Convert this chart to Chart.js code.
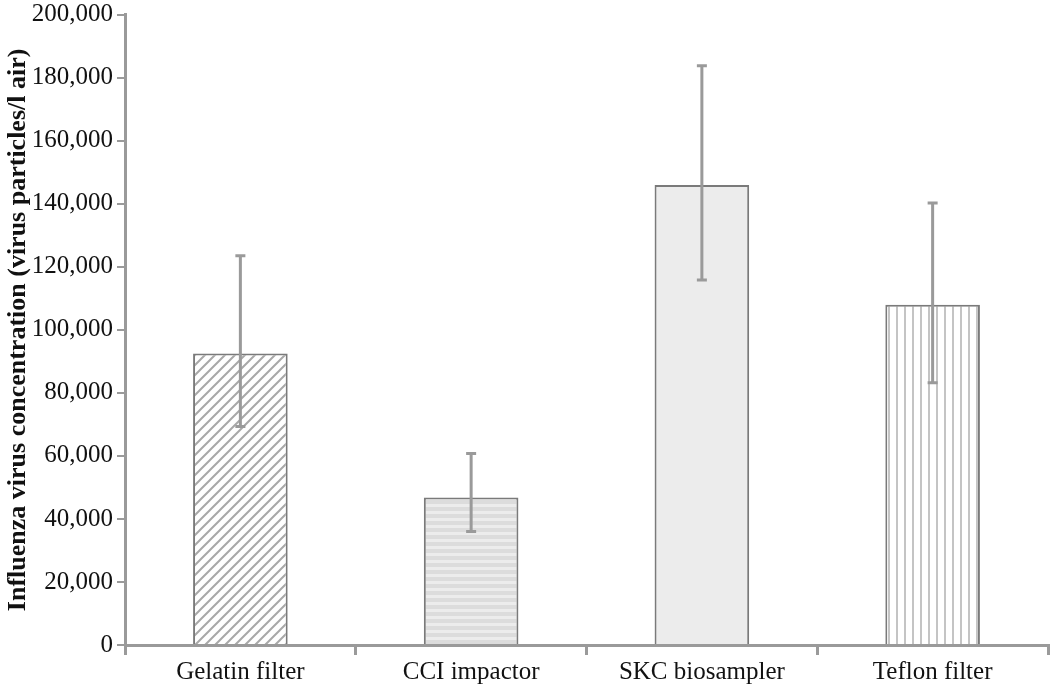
<!DOCTYPE html>
<html>
<head>
<meta charset="utf-8">
<script src="https://cdn.jsdelivr.net/npm/chart.js@4"></script>
<style>
  html, body { margin: 0; padding: 0; background: #fff; }
  #wrap { width: 1050px; height: 689px; }
</style>
</head>
<body>
<div id="wrap"><canvas id="myChart" width="1050" height="689"></canvas></div>
<script>
// data
var categories = ['Gelatin filter', 'CCI impactor', 'SKC biosampler', 'Teflon filter'];
var means = [92500, 46800, 146000, 108000];
var errLow = [69300, 36000, 115800, 83200];
var errHigh = [123500, 60800, 183800, 140300];
var yTicks = [0, 20000, 40000, 60000, 80000, 100000, 120000, 140000, 160000, 180000, 200000];

// hatch patterns
function makePattern(kind) {
  var c = document.createElement('canvas');
  var ctx = c.getContext('2d');
  if (kind == 'diag') {
    c.width = 10; c.height = 10;
    ctx.fillStyle = '#fff'; ctx.fillRect(0, 0, 10, 10);
    ctx.strokeStyle = '#a8a8a8'; ctx.lineWidth = 2;
    ctx.beginPath();
    ctx.moveTo(-2, 12); ctx.lineTo(12, -2);
    ctx.moveTo(-7, 7); ctx.lineTo(7, -7);
    ctx.moveTo(3, 17); ctx.lineTo(17, 3);
    ctx.stroke();
  } else if (kind == 'horiz') {
    c.width = 8; c.height = 7;
    ctx.fillStyle = '#dcdcdc'; ctx.fillRect(0, 0, 8, 7);
    ctx.fillStyle = '#ececec'; ctx.fillRect(0, 0, 8, 3);
  } else if (kind == 'vert') {
    c.width = 8; c.height = 8;
    ctx.fillStyle = '#fff'; ctx.fillRect(0, 0, 8, 8);
    ctx.fillStyle = '#c4c4c4'; ctx.fillRect(0, 0, 2, 8);
  } else {
    c.width = 4; c.height = 4;
    ctx.fillStyle = '#ececec'; ctx.fillRect(0, 0, 4, 4);
  }
  return ctx.createPattern(c, 'repeat');
}

var errorBars = {
  id: 'errorBars',
  afterDatasetsDraw: function (chart) {
    var ctx = chart.ctx;
    var y = chart.scales.y;
    var meta = chart.getDatasetMeta(0);
    ctx.save();
    ctx.strokeStyle = '#9a9a9a';
    ctx.lineWidth = 3;
    for (var i = 0; i < meta.data.length; i++) {
      var x = meta.data[i].x;
      var yt = y.getPixelForValue(errHigh[i]);
      var yb = y.getPixelForValue(errLow[i]);
      ctx.beginPath();
      ctx.moveTo(x, yt); ctx.lineTo(x, yb);
      ctx.moveTo(x - 5, yt); ctx.lineTo(x + 5, yt);
      ctx.moveTo(x - 5, yb); ctx.lineTo(x + 5, yb);
      ctx.stroke();
    }
    ctx.restore();
  }
};

new Chart('myChart', {
  type: 'bar',
  data: {
    labels: categories,
    datasets: [{
      data: means,
      backgroundColor: [makePattern('diag'), makePattern('horiz'), makePattern('solid'), makePattern('vert')],
      borderColor: '#7a7a7a',
      borderWidth: 2,
      categoryPercentage: 1,
      barPercentage: 0.41
    }]
  },
  options: {
    responsive: false,
    animation: false,
    layout: { padding: { top: 0, right: 2, left: 0, bottom: 0 } },
    plugins: { legend: { display: false }, tooltip: { enabled: false } },
    scales: {
      x: {
        grid: { display: true, drawOnChartArea: false, color: '#9a9a9a', lineWidth: 3, tickLength: 10, offset: true },
        border: { color: '#9a9a9a', width: 3 },
        ticks: { color: '#111', font: { family: 'Liberation Serif', size: 25 }, padding: 2, maxRotation: 0 },
        afterFit: function (s) { s.height = 44; }
      },
      y: {
        min: 0, max: 200000,
        afterBuildTicks: function (s) { s.ticks = yTicks.map(function (v) { return { value: v }; }); },
        grid: { display: true, drawOnChartArea: false, color: '#9a9a9a', lineWidth: 2, tickLength: 8 },
        border: { color: '#9a9a9a', width: 3 },
        ticks: {
          color: '#111', padding: 4,
          font: { family: 'Liberation Serif', size: 25, lineHeight: 0.86 },
          callback: function (v) { return v.toLocaleString('en-US'); }
        },
        title: {
          display: true,
          text: 'Influenza virus concentration (virus particles/l air)',
          color: '#111',
          font: { family: 'Liberation Serif', size: 26, weight: 'bold' },
          padding: { top: 3, bottom: 0 }
        },
        afterFit: function (s) { s.width = 125; }
      }
    }
  },
  plugins: [errorBars]
});
</script>
</body>
</html>
